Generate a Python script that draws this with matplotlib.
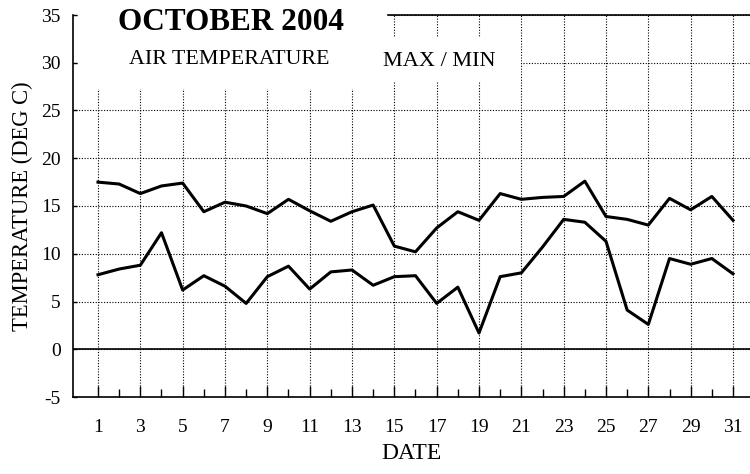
import matplotlib
matplotlib.use("Agg")
import matplotlib.pyplot as plt
from matplotlib.patches import Rectangle
from matplotlib.ticker import FixedLocator

days = list(range(1, 32))
t_max = [17.5, 17.3, 16.3, 17.1, 17.4, 14.4, 15.4, 15.0, 14.2, 15.7, 14.5,
         13.4, 14.4, 15.1, 10.8, 10.2, 12.7, 14.4, 13.5, 16.3, 15.7,
         15.9, 16.0, 17.6, 13.9, 13.6, 13.0, 15.8, 14.6, 16.0, 13.5]
t_min = [7.8, 8.4, 8.8, 12.2, 6.2, 7.7, 6.6, 4.8, 7.6, 8.7, 6.3,
         8.1, 8.3, 6.7, 7.6, 7.7, 4.8, 6.5, 1.7, 7.6, 8.0,
         10.7, 13.6, 13.3, 11.3, 4.1, 2.6, 9.5, 8.9, 9.5, 7.9]
x_tick_labels = [str(d) for d in range(1, 32, 2)]
y_ticks = list(range(-5, 40, 5))

plt.rcParams['font.family'] = ['Liberation Serif', 'DejaVu Serif']

fig = plt.figure(figsize=(7.5, 4.74), dpi=100)
ax = fig.add_axes([73/750, 77/474, 1 - 73/750, (397-15)/474])

xmin, xmax = 1 - 25/21.17, 31 + 17/21.17
ax.set_xlim(xmin, xmax)
ax.set_ylim(-5, 35)
ax.set_axisbelow(True)

ax.xaxis.set_major_locator(FixedLocator(list(range(1, 32, 2))))
ax.set_xticklabels(x_tick_labels, fontsize=14)
ax.xaxis.set_minor_locator(FixedLocator(list(range(2, 32, 2))))
ax.set_yticks(y_ticks)
ax.set_yticklabels([str(v) for v in y_ticks], fontsize=14)

ax.tick_params(axis='x', which='major', direction='in', length=8, width=1, pad=16)
ax.tick_params(axis='x', which='minor', direction='in', length=5.8, width=1)
ax.tick_params(axis='y', which='major', direction='in', length=3, width=1, pad=9)

ax.grid(True, which='major', color='black', linewidth=0.8, linestyle=(0, (1, 1.5)))

for s in ['top', 'right']:
    ax.spines[s].set_visible(False)
for s in ['left', 'bottom']:
    ax.spines[s].set_linewidth(1.2)

ax.axhline(0, color='black', linewidth=1.2, zorder=1.6)

# white boxes behind title texts
ax.add_patch(Rectangle((xmin + 0.25, 27.3), 14.7 - xmin - 0.25, 8.5,
                       facecolor='white', edgecolor='none', zorder=1, clip_on=False))
ax.add_patch(Rectangle((14.7, 28.0), 21 - 14.7, 4.7,
                       facecolor='white', edgecolor='none', zorder=1))
ax.plot([14.7, xmax], [35, 35], color='black', linewidth=1.2, clip_on=False, zorder=2)

ax.plot(days, t_max, color='black', linewidth=2.2, zorder=3)
ax.plot(days, t_min, color='black', linewidth=2.2, zorder=3)

ax.set_xlabel('DATE', fontsize=17, labelpad=5)
ax.set_ylabel('TEMPERATURE (DEG C)', fontsize=16.3, labelpad=6)

fig.text(231/750, 1 - 22/474, 'OCTOBER 2004', fontsize=22.5, fontweight='bold',
         ha='center', va='center')
fig.text(229/750, 1 - 59/474, 'AIR TEMPERATURE', fontsize=15.8, ha='center', va='center')
fig.text(439/750, 1 - 61/474, 'MAX / MIN', fontsize=16, ha='center', va='center')

fig.savefig('out.png', dpi=100)
